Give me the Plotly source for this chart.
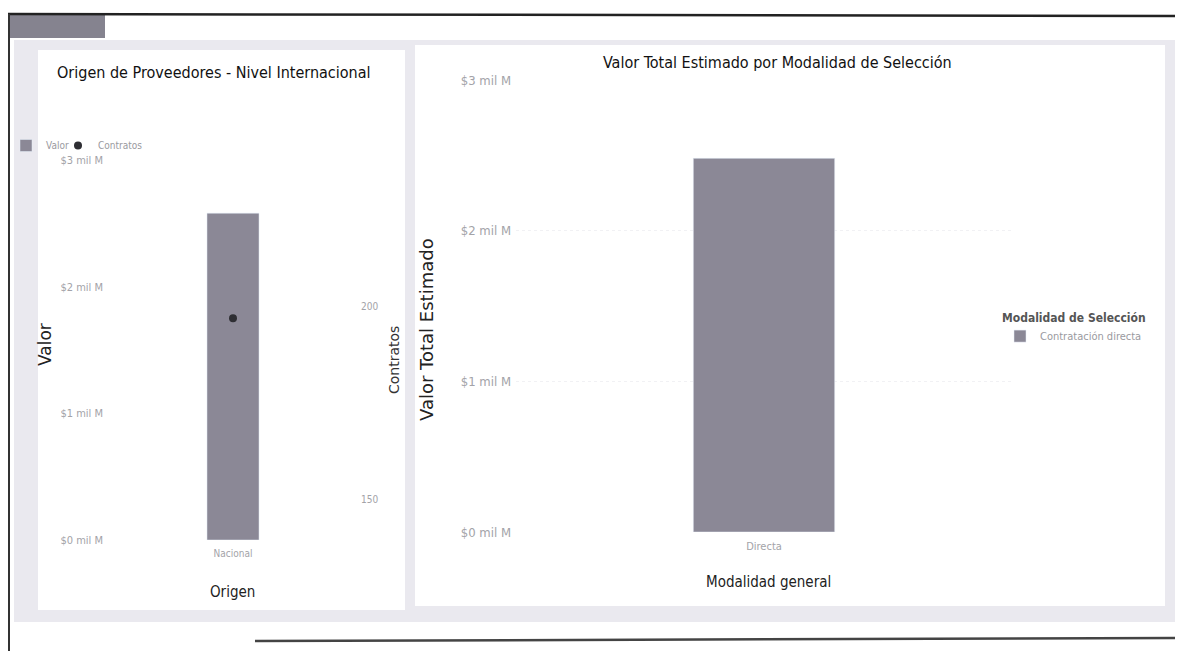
import plotly.graph_objects as go

# Left chart data
origen = ["Nacional"]
valor_origen = [2.58e9]
contratos = [197]

# Right chart data
modalidad = ["Directa"]
valor_modalidad = [2.48e9]
modalidad_sel = "Contratación directa"

val_ticks = [0, 1e9, 2e9, 3e9]
val_ticktext = ["$0 mil M", "$1 mil M", "$2 mil M", "$3 mil M"]
contr_ticks = [150, 200]

BAR = "#8b8896"
DOT = "#2e2e33"
TICK = "#a3a3a8"
FONT = "DejaVu Sans Condensed, Roboto, Arial"

W, H = 1167, 643
OFF = 8
def px(x): return (x - OFF) / W
def py(y): return 1 - (y - OFF) / H

fig = go.Figure()

fig.add_trace(go.Bar(x=origen, y=valor_origen, name="Valor", marker_color=BAR, width=0.215,
                     xaxis="x", yaxis="y", legend="legend"))
fig.add_trace(go.Scatter(x=origen, y=contratos, name="Contratos", mode="markers",
                         marker=dict(color=DOT, size=8), xaxis="x", yaxis="y2", legend="legend3"))
fig.add_trace(go.Bar(x=modalidad, y=valor_modalidad, name=modalidad_sel, marker_color=BAR, width=0.285,
                     xaxis="x3", yaxis="y3", legend="legend2"))

leg_common = dict(xanchor="left", yanchor="top", bgcolor="rgba(0,0,0,0)", itemwidth=30)

fig.update_layout(
    width=W, height=H,
    margin=dict(l=0, r=0, t=0, b=0, autoexpand=False),
    paper_bgcolor="white",
    plot_bgcolor="rgba(0,0,0,0)",
    font=dict(family=FONT, color="#333"),
    showlegend=True,
    xaxis=dict(domain=[px(112), px(354)], anchor="y", showgrid=False, showline=False, automargin=False,
               ticklabelstandoff=6, tickfont=dict(size=10, color=TICK), ticks="", title=None),
    yaxis=dict(domain=[py(540), py(160)], range=[0, 3e9], tickvals=val_ticks, ticktext=val_ticktext,
               automargin=False, ticklabelstandoff=8,
               tickfont=dict(size=11, color=TICK), showgrid=False, zeroline=False, anchor="x"),
    yaxis2=dict(overlaying="y", side="right", anchor="x", range=[139.6, 238], tickvals=contr_ticks,
                automargin=False, ticklabelstandoff=6,
                tickfont=dict(size=10, color=TICK), showgrid=False, zeroline=False),
    xaxis3=dict(domain=[px(516), px(1012)], anchor="y3", showgrid=False, showline=False, automargin=False,
                ticklabelstandoff=6, tickfont=dict(size=11, color=TICK), ticks=""),
    yaxis3=dict(domain=[py(532), py(80)], range=[0, 3e9], tickvals=val_ticks, ticktext=val_ticktext,
                automargin=False, ticklabelstandoff=4,
                tickfont=dict(size=13, color=TICK), showgrid=True, gridcolor="#f1f1f4", griddash="dot",
                zeroline=False, anchor="x3"),
    legend=dict(x=px(6), y=py(131), font=dict(size=10, color="#9a9aa0"), **leg_common),
    legend3=dict(x=px(58), y=py(131), font=dict(size=10, color="#9a9aa0"), **leg_common),
    legend2=dict(x=px(1000), y=py(306),
                 title=dict(text="<b>Modalidad de Selección</b>", font=dict(size=12, color="#555")),
                 font=dict(size=11, color="#9a9aa0"), **leg_common),
    shapes=[
        dict(type="rect", xref="paper", yref="paper", x0=px(14), x1=px(1183), y0=py(622), y1=py(40),
             fillcolor="#eae9ef", line=dict(width=0), layer="below"),
        dict(type="rect", xref="paper", yref="paper", x0=px(8), x1=px(105), y0=py(38), y1=py(14),
             fillcolor="#85838f", line=dict(width=0), layer="below"),
        dict(type="rect", xref="paper", yref="paper", x0=px(38), x1=px(405), y0=py(610), y1=py(50),
             fillcolor="white", line=dict(width=0), layer="below"),
        dict(type="rect", xref="paper", yref="paper", x0=px(415), x1=px(1165), y0=py(606), y1=py(45),
             fillcolor="white", line=dict(width=0), layer="below"),
        dict(type="line", xref="paper", yref="paper", x0=px(8), x1=1, y0=py(14), y1=py(16),
             line=dict(color="#222", width=2.5)),
        dict(type="line", xref="paper", yref="paper", x0=px(9), x1=px(9), y0=py(14), y1=0,
             line=dict(color="#333", width=2)),
        dict(type="line", xref="paper", yref="paper", x0=px(255), x1=1, y0=py(641), y1=py(638),
             line=dict(color="#444", width=2.5)),
    ],
    annotations=[
        dict(text="Origen de Proveedores - Nivel Internacional", x=px(214), y=py(73), xref="paper", yref="paper",
             xanchor="center", yanchor="middle",
             showarrow=False, font=dict(size=16, color="#111")),
        dict(text="Valor Total Estimado por Modalidad de Selección", x=px(777), y=py(62), xref="paper", yref="paper",
             xanchor="center", yanchor="middle",
             showarrow=False, font=dict(size=16, color="#111")),
        dict(text="Valor", x=px(45), y=py(345), xref="paper", yref="paper", textangle=-90,
             xanchor="center", yanchor="middle",
             showarrow=False, font=dict(size=17, color="#222", family="DejaVu Sans")),
        dict(text="Contratos", x=px(394), y=py(360), xref="paper", yref="paper", textangle=-90,
             xanchor="center", yanchor="middle",
             showarrow=False, font=dict(size=14, color="#333", family="DejaVu Sans")),
        dict(text="Valor Total Estimado", x=px(426), y=py(330), xref="paper", yref="paper", textangle=-90,
             xanchor="center", yanchor="middle",
             showarrow=False, font=dict(size=18, color="#222", family="DejaVu Sans")),
        dict(text="Origen", x=px(232), y=py(592), xref="paper", yref="paper",
             xanchor="center", yanchor="middle",
             showarrow=False, font=dict(size=15, color="#222")),
        dict(text="Modalidad general", x=px(768), y=py(582), xref="paper", yref="paper",
             xanchor="center", yanchor="middle",
             showarrow=False, font=dict(size=15, color="#222")),
    ],
)

fig.write_html("out.html")
